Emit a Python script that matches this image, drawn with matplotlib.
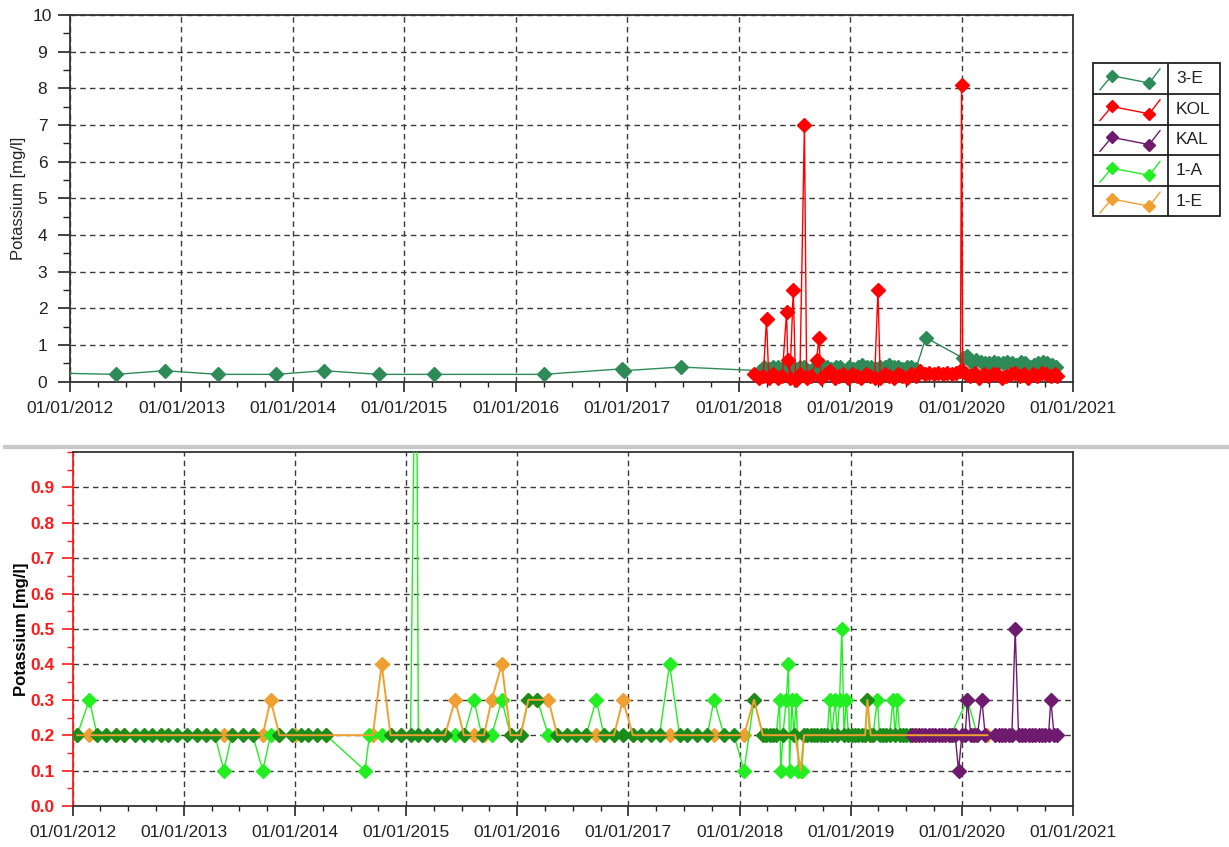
import numpy as np
import matplotlib
matplotlib.use("Agg")
import matplotlib.pyplot as plt
from matplotlib.lines import Line2D
from matplotlib.patches import Rectangle
from matplotlib.ticker import MultipleLocator, FixedLocator

plt.rcParams['font.family'] = ['Liberation Sans', 'DejaVu Sans']

# ---------------- data (decimal years) ----------------
year_ticks = [2012, 2013, 2014, 2015, 2016, 2017, 2018, 2019, 2020, 2021]
year_labels = ["01/01/%d" % y for y in year_ticks]

# 3-E (top panel)
e3_x = [2011.95, 2012.41, 2012.85, 2013.33, 2013.85, 2014.28, 2014.77, 2015.27, 2016.25, 2016.95, 2016.97,
        2017.48, 2018.19, 2018.23, 2018.27, 2018.31, 2018.35, 2018.39, 2018.43, 2018.47, 2018.51, 2018.55,
        2018.59, 2018.63, 2018.67, 2018.71, 2018.75, 2018.79, 2018.83, 2018.87, 2018.91, 2018.95, 2018.99,
        2019.03, 2019.07, 2019.11, 2019.15, 2019.19, 2019.23, 2019.27, 2019.31, 2019.35, 2019.39, 2019.43,
        2019.47, 2019.51, 2019.55, 2019.59, 2019.68, 2020.01, 2020.05, 2020.09, 2020.13, 2020.17, 2020.21,
        2020.25, 2020.29, 2020.33, 2020.37, 2020.41, 2020.45, 2020.49, 2020.53, 2020.57, 2020.61, 2020.65,
        2020.69, 2020.73, 2020.77, 2020.81, 2020.85]
e3_y = [0.23, 0.2, 0.3, 0.2, 0.2, 0.3, 0.2, 0.2, 0.2, 0.35, 0.3,
        0.4, 0.3, 0.4, 0.35, 0.4, 0.4, 0.35, 0.45, 0.4, 0.35, 0.4,
        0.4, 0.3, 0.35, 0.4, 0.45, 0.4, 0.35, 0.4, 0.4, 0.3, 0.4,
        0.35, 0.4, 0.45, 0.4, 0.4, 0.35, 0.4, 0.4, 0.45, 0.4, 0.4,
        0.35, 0.4, 0.4, 0.35, 1.2, 0.65, 0.7, 0.5, 0.6, 0.55, 0.5,
        0.5, 0.55, 0.5, 0.5, 0.55, 0.5, 0.45, 0.55, 0.5, 0.4, 0.45,
        0.5, 0.55, 0.5, 0.45, 0.4]

# KOL (top panel)
kol_x = [2018.14, 2018.18, 2018.22, 2018.25, 2018.27, 2018.31, 2018.35, 2018.39, 2018.43, 2018.44, 2018.46,
         2018.49, 2018.51, 2018.55, 2018.59, 2018.61, 2018.65, 2018.70, 2018.72, 2018.74, 2018.78, 2018.82,
         2018.86, 2018.90, 2018.94, 2018.98, 2019.02, 2019.06, 2019.10, 2019.14, 2019.18, 2019.22, 2019.25,
         2019.27, 2019.31, 2019.35, 2019.39, 2019.43, 2019.47, 2019.51, 2019.55, 2019.59, 2019.63, 2019.67,
         2019.71, 2019.75, 2019.79, 2019.83, 2019.87, 2019.91, 2019.95, 2019.99, 2020.00, 2020.01, 2020.04,
         2020.08, 2020.12, 2020.16, 2020.20, 2020.24, 2020.28, 2020.32, 2020.36, 2020.40, 2020.44, 2020.48,
         2020.52, 2020.56, 2020.60, 2020.64, 2020.68, 2020.72, 2020.76, 2020.80, 2020.84, 2020.86]
kol_y = [0.2, 0.1, 0.15, 1.7, 0.1, 0.2, 0.1, 0.15, 1.9, 0.6, 0.1,
         2.5, 0.05, 0.2, 7.0, 0.1, 0.15, 0.6, 1.2, 0.1, 0.2, 0.3,
         0.1, 0.15, 0.2, 0.1, 0.2, 0.15, 0.1, 0.2, 0.15, 0.1, 2.5,
         0.1, 0.2, 0.15, 0.1, 0.2, 0.15, 0.1, 0.2, 0.15, 0.3, 0.2,
         0.25, 0.2, 0.25, 0.2, 0.25, 0.2, 0.25, 0.3, 8.1, 0.3, 0.2,
         0.15, 0.25, 0.1, 0.2, 0.15, 0.2, 0.2, 0.1, 0.15, 0.2, 0.25,
         0.15, 0.2, 0.1, 0.2, 0.15, 0.25, 0.2, 0.15, 0.2, 0.15]

# 1-A (bottom panel); a1_dark marks the darker-green markers
a1_x = [2012.04, 2012.15, 2012.22, 2012.30, 2012.39, 2012.46, 2012.56, 2012.64, 2012.71, 2012.79, 2012.86,
        2012.94, 2013.03, 2013.12, 2013.20, 2013.28, 2013.36, 2013.43, 2013.53, 2013.62, 2013.71, 2013.78,
        2013.86, 2013.97, 2014.05, 2014.12, 2014.20, 2014.28, 2014.63, 2014.67, 2014.78, 2014.86, 2014.95,
        2015.04, 2015.09, 2015.11, 2015.19, 2015.28, 2015.35, 2015.44, 2015.52, 2015.61, 2015.68, 2015.77,
        2015.86, 2015.94, 2016.03, 2016.10, 2016.18, 2016.28, 2016.36, 2016.45, 2016.53, 2016.62, 2016.71,
        2016.78, 2016.87, 2016.95, 2017.04, 2017.11, 2017.20, 2017.28, 2017.37, 2017.46, 2017.53, 2017.62,
        2017.71, 2017.77, 2017.86, 2017.95, 2018.04, 2018.13, 2018.21, 2018.24, 2018.27, 2018.30, 2018.33,
        2018.36, 2018.37, 2018.39, 2018.42, 2018.44, 2018.45, 2018.47, 2018.49, 2018.51, 2018.53, 2018.56,
        2018.58, 2018.61, 2018.64, 2018.67, 2018.70, 2018.73, 2018.76, 2018.79, 2018.81, 2018.83, 2018.86,
        2018.88, 2018.90, 2018.92, 2018.94, 2018.96, 2018.98, 2019.01, 2019.04, 2019.07, 2019.10, 2019.13,
        2019.15, 2019.17, 2019.20, 2019.24, 2019.26, 2019.29, 2019.32, 2019.35, 2019.38, 2019.40, 2019.42,
        2019.44, 2019.47, 2019.50, 2019.53, 2019.90, 2020.05, 2020.14]
a1_y = [0.2, 0.3, 0.2, 0.2, 0.2, 0.2, 0.2, 0.2, 0.2, 0.2, 0.2,
        0.2, 0.2, 0.2, 0.2, 0.2, 0.1, 0.2, 0.2, 0.2, 0.1, 0.2,
        0.2, 0.2, 0.2, 0.2, 0.2, 0.2, 0.1, 0.2, 0.2, 0.2, 0.2,
        0.2, 1.6, 0.2, 0.2, 0.2, 0.2, 0.2, 0.2, 0.3, 0.2, 0.2,
        0.3, 0.2, 0.2, 0.3, 0.3, 0.2, 0.2, 0.2, 0.2, 0.2, 0.3,
        0.2, 0.2, 0.2, 0.2, 0.2, 0.2, 0.2, 0.4, 0.2, 0.2, 0.2,
        0.2, 0.3, 0.2, 0.2, 0.1, 0.3, 0.2, 0.2, 0.2, 0.2, 0.2,
        0.3, 0.1, 0.2, 0.3, 0.4, 0.1, 0.3, 0.2, 0.3, 0.1, 0.1,
        0.2, 0.2, 0.2, 0.2, 0.2, 0.2, 0.2, 0.2, 0.3, 0.2, 0.3,
        0.2, 0.3, 0.5, 0.2, 0.3, 0.2, 0.2, 0.2, 0.2, 0.2, 0.2,
        0.3, 0.2, 0.2, 0.3, 0.2, 0.2, 0.2, 0.2, 0.3, 0.2, 0.3,
        0.2, 0.2, 0.2, 0.2, 0.2, 0.3, 0.2]
a1_dark = [1, 0, 1, 1, 1, 1, 1, 1, 1, 1, 1,
           1, 1, 1, 1, 1, 0, 1, 1, 1, 0, 0,
           1, 1, 1, 1, 1, 1, 0, 0, 0, 1, 1,
           1, 0, 1, 1, 1, 1, 0, 1, 0, 1, 0,
           0, 1, 1, 1, 1, 0, 1, 1, 1, 1, 0,
           1, 1, 1, 1, 1, 1, 1, 0, 1, 1, 1,
           1, 0, 1, 1, 0, 1, 1, 1, 1, 1, 1,
           0, 0, 1, 0, 0, 0, 0, 1, 0, 0, 0,
           1, 1, 1, 1, 1, 1, 1, 1, 0, 1, 0,
           1, 0, 0, 1, 0, 1, 1, 1, 1, 1, 1,
           1, 1, 1, 0, 1, 1, 1, 1, 0, 1, 0,
           1, 1, 1, 1, 0, 1, 0]

# 1-E (bottom panel)
e1_x = [2012.04, 2012.15, 2012.39, 2012.46, 2012.79, 2013.36, 2013.43, 2013.71, 2013.78, 2013.86, 2014.00,
        2014.28, 2014.70, 2014.78, 2014.86, 2014.95, 2015.35, 2015.44, 2015.52, 2015.61, 2015.70, 2015.77,
        2015.86, 2015.94, 2016.03, 2016.10, 2016.18, 2016.28, 2016.36, 2016.71, 2016.87, 2016.95, 2017.04,
        2017.37, 2017.77, 2018.04, 2018.13, 2018.21, 2018.50, 2018.55, 2018.58, 2019.13, 2019.15, 2019.18,
        2019.60, 2019.90, 2020.10, 2020.23]
e1_y = [0.2, 0.2, 0.2, 0.2, 0.2, 0.2, 0.2, 0.2, 0.3, 0.2, 0.2,
        0.2, 0.2, 0.4, 0.2, 0.2, 0.2, 0.3, 0.2, 0.2, 0.2, 0.3,
        0.4, 0.2, 0.2, 0.3, 0.3, 0.3, 0.2, 0.2, 0.2, 0.3, 0.2,
        0.2, 0.2, 0.2, 0.3, 0.2, 0.2, 0.1, 0.2, 0.2, 0.3, 0.2,
        0.2, 0.2, 0.2, 0.2]

# KAL (bottom panel)
kal_x = [2019.55, 2019.58, 2019.61, 2019.64, 2019.67, 2019.70, 2019.73, 2019.76, 2019.79, 2019.82, 2019.85,
         2019.88, 2019.91, 2019.94, 2019.97, 2020.00, 2020.03, 2020.05, 2020.08, 2020.11, 2020.14, 2020.18,
         2020.21, 2020.30, 2020.33, 2020.36, 2020.39, 2020.42, 2020.45, 2020.48, 2020.51, 2020.54, 2020.57,
         2020.60, 2020.63, 2020.66, 2020.69, 2020.72, 2020.75, 2020.78, 2020.80, 2020.83, 2020.86]
kal_y = [0.2, 0.2, 0.2, 0.2, 0.2, 0.2, 0.2, 0.2, 0.2, 0.2, 0.2,
         0.2, 0.2, 0.2, 0.1, 0.2, 0.2, 0.3, 0.2, 0.2, 0.2, 0.3,
         0.2, 0.2, 0.2, 0.2, 0.2, 0.2, 0.2, 0.5, 0.2, 0.2, 0.2,
         0.2, 0.2, 0.2, 0.2, 0.2, 0.2, 0.2, 0.3, 0.2, 0.2]

series_names = ["3-E", "KOL", "KAL", "1-A", "1-E"]
series_colors = ["#2E8B57", "#FF0000", "#6E1A6E", "#22EE22", "#F0A030"]
c_e3, c_kol, c_kal, c_a1, c_e1 = series_colors
c_a1_dark = "#1A8C1A"

# ---------------- figure ----------------
W, H = 1229, 847
fig = plt.figure(figsize=(W / 100, H / 100), dpi=100)

def fx(px):
    return px / W

def fy(py):
    return 1 - py / H

ax1 = fig.add_axes([fx(70), fy(381.7), fx(1073 - 70), (381.7 - 15) / H])
ax2 = fig.add_axes([fx(72.7), fy(806), fx(1073 - 72.7), (806 - 452) / H])

grid_kw = dict(color="#3a3a3a", linestyle=(0, (4, 3)), linewidth=1.0)
tick_color = "#222222"
ms = 7.0

for ax in (ax1, ax2):
    ax.set_xlim(2012, 2021)
    ax.xaxis.set_major_locator(FixedLocator(year_ticks))
    ax.set_xticklabels(year_labels, fontsize=12.5, color=tick_color)
    ax.xaxis.set_minor_locator(MultipleLocator(0.25))
    ax.tick_params(axis="x", which="major", direction="out", length=7.5, width=1.2, pad=6.5, colors="#222222")
    ax.tick_params(axis="x", which="minor", direction="out", length=3.6, width=1.0, colors="#222222")
    ax.grid(True, which="major", **grid_kw)
    ax.set_axisbelow(True)
    for s in ax.spines.values():
        s.set_color("#333333")
        s.set_linewidth(1.3)

# ---- top panel ----
ax1.set_ylim(0, 10)
ax1.yaxis.set_major_locator(MultipleLocator(1))
ax1.yaxis.set_minor_locator(MultipleLocator(0.5))
ax1.tick_params(axis="y", which="major", direction="out", length=8.6, width=1.2, pad=11.2,
                labelsize=12.5, colors="#222222")
ax1.tick_params(axis="y", which="minor", direction="out", length=5, width=1.0, colors="#222222")
for lab in ax1.get_yticklabels():
    lab.set_horizontalalignment("center")
ax1.set_ylabel("Potassium [mg/l]", fontsize=12, color="#222222")
ax1.yaxis.set_label_coords(-0.044, 0.5)

ax1.plot(e3_x, e3_y, color=c_e3, lw=1.0, marker="D", ms=ms, mfc=c_e3, mec=c_e3, zorder=3)
ax1.plot(kol_x, kol_y, color=c_kol, lw=1.0, marker="D", ms=ms, mfc=c_kol, mec=c_kol, zorder=4,
         clip_on=False)

# ---- bottom panel ----
ax2.set_ylim(0, 1.0)
yt2 = [0.0, 0.1, 0.2, 0.3, 0.4, 0.5, 0.6, 0.7, 0.8, 0.9]
ax2.yaxis.set_major_locator(FixedLocator(yt2))
ax2.yaxis.set_minor_locator(MultipleLocator(0.05))
ax2.set_yticklabels(["%.1f" % v for v in yt2], fontsize=12.5, fontweight="bold", color="#FF1A1A")
ax2.tick_params(axis="y", which="major", direction="out", length=8, width=1.2, pad=4.8, colors="#FF1A1A")
ax2.tick_params(axis="y", which="minor", direction="out", length=4.3, width=1.0, colors="#FF1A1A")
for lab in ax2.get_yticklabels():
    lab.set_color("#FF1A1A")
ax2.spines["left"].set_color("#FF1A1A")
ax2.set_ylabel("Potassium [mg/l]", fontsize=12, fontweight="bold", color="black")
ax2.yaxis.set_label_coords(-0.0437, 0.5)

a1x = np.array(a1_x)
a1y = np.array(a1_y)
dark = np.array(a1_dark, dtype=bool)
# 1-E markers sit beneath the 1-A markers, its line runs above them
ax2.plot(e1_x, e1_y, ls="none", marker="D", ms=ms, mfc=c_e1, mec=c_e1, zorder=2.5)
ax2.plot(a1x, a1y, color=c_a1, lw=1.0, zorder=3)
ax2.plot(a1x[~dark], a1y[~dark], ls="none", marker="D", ms=ms, mfc=c_a1, mec=c_a1, zorder=3)
ax2.plot(a1x[dark], a1y[dark], ls="none", marker="D", ms=ms, mfc=c_a1_dark, mec=c_a1_dark, zorder=3)
ax2.plot(kal_x, kal_y, color=c_kal, lw=1.0, marker="D", ms=ms, mfc=c_kal, mec=c_kal, zorder=4)
ax2.plot(e1_x, e1_y, color=c_e1, lw=1.4, zorder=5)

# separator line between the panels
fig.add_artist(Line2D([fx(5), 1.0], [fy(447), fy(447)], transform=fig.transFigure,
                      color="#c8c8c8", lw=3))

# ---- legend (drawn as a table) ----
lx0, lx1, ly0, ly1 = 1092, 1220, 63, 217
lax = fig.add_axes([fx(lx0), fy(ly1), fx(lx1 - lx0), (ly1 - ly0) / H])
lax.set_xlim(lx0, lx1)
lax.set_ylim(ly1, ly0)
lax.axis("off")
lax.add_patch(Rectangle((lx0 + 0.5, ly0 + 0.5), lx1 - lx0 - 1, ly1 - ly0 - 1, fill=False,
                        ec="#222222", lw=1.3, clip_on=False))
rowh = (ly1 - ly0) / len(series_names)
lax.plot([1168, 1168], [ly0, ly1], color="#222222", lw=1.3)
for i, (name, col) in enumerate(zip(series_names, series_colors)):
    t = ly0 + i * rowh
    if i > 0:
        lax.plot([lx0, lx1], [t, t], color="#222222", lw=1.3)
    lax.plot([1100, 1111.7, 1149.3, 1160], [t + 26.7, t + 12.7, t + 20, t + 6], color=col, lw=1.0)
    lax.plot([1111.7, 1149.3], [t + 12.7, t + 20], ls="none", marker="D", ms=6, mfc=col, mec=col)
    lax.text(1176, t + rowh / 2, name, fontsize=12.5, color="#222222", va="center", ha="left")

fig.savefig("out.png", dpi=100)
